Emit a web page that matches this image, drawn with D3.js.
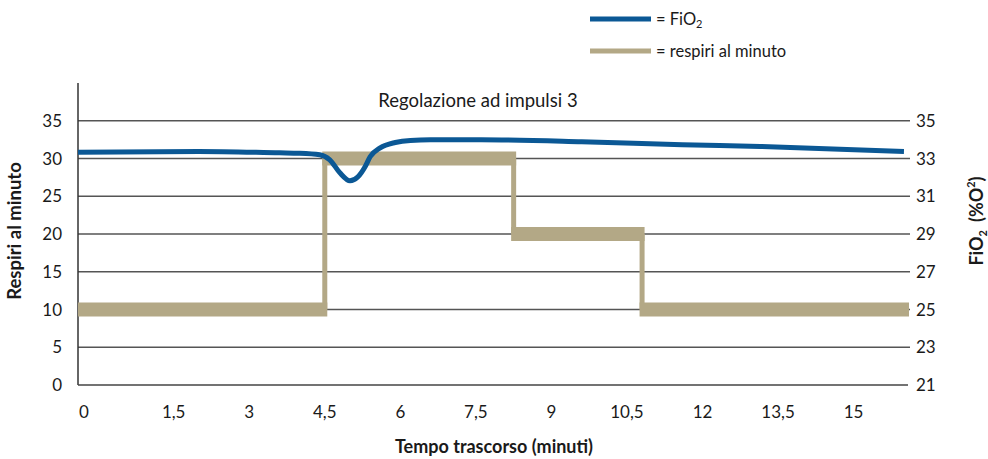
<!DOCTYPE html>
<html>
<head>
<meta charset="utf-8">
<script src="https://cdn.jsdelivr.net/npm/d3@7"></script>
<style>
  body { margin: 0; background: #fff; }
  text { font-family: Lato, "Open Sans", sans-serif; fill: #1a1a1a; }
</style>
</head>
<body>
<script>
  /* tick labels */
  var xTicks = [0, 1.5, 3, 4.5, 6, 7.5, 9, 10.5, 12, 13.5, 15];
  var leftTicks = [0, 5, 10, 15, 20, 25, 30, 35];
  var rightTicks = [21, 23, 25, 27, 29, 31, 33, 35];

  /* respiri al minuto: step segments (start, end, value) */
  var stepStart = [-0.4, 4.5, 8.25, 10.8];
  var stepEnd = [4.5, 8.25, 10.8, 16.1];
  var stepValue = [10, 30, 20, 10];

  /* FiO2 (%) */
  var fioTime = [-0.4, 2.0, 3.6, 4.0, 4.4, 4.6, 4.8, 5.0, 5.16, 5.3, 5.4, 5.6, 5.9, 6.2, 6.6, 7.6, 9.6, 11.6, 13.15, 16.0];
  var fioValue = [33.33, 33.37, 33.3, 33.28, 33.2, 32.93, 32.24, 31.82, 32.03, 32.56, 33.09, 33.56, 33.85, 33.96, 33.99, 33.99, 33.89, 33.73, 33.64, 33.37];

  var width = 988, height = 459;
  var blue = "#0b5895", tan = "#b3a886";

  var svg = d3.select("body").append("svg")
      .attr("width", width)
      .attr("height", height);

  /* scales */
  var x = d3.scaleLinear().domain([-0.4, 16.1]).range([78, 909]);
  var yL = d3.scaleLinear().domain([0, 40]).range([385, 83]);
  var yR = d3.scaleLinear().domain([21, 37]).range([385, 83]);

  /* gridlines */
  svg.append("g").selectAll("line")
    .data(leftTicks.slice(1))
    .enter().append("line")
      .attr("x1", x(-0.4)).attr("x2", 910)
      .attr("y1", function (d) { return yL(d); })
      .attr("y2", function (d) { return yL(d); })
      .attr("stroke", "#555").attr("stroke-width", 1.5);

  /* axis lines */
  svg.append("line")
    .attr("x1", x(-0.4)).attr("x2", x(-0.4))
    .attr("y1", yL(40)).attr("y2", yL(0))
    .attr("stroke", "#333").attr("stroke-width", 1.5);
  svg.append("line")
    .attr("x1", x(-0.4)).attr("x2", 908)
    .attr("y1", yL(0)).attr("y2", yL(0))
    .attr("stroke", "#444").attr("stroke-width", 1.5);

  /* tick labels */
  svg.append("g").selectAll("text")
    .data(leftTicks)
    .enter().append("text")
      .attr("x", 62)
      .attr("y", function (d) { return yL(d) + 6; })
      .attr("text-anchor", "end")
      .style("font-size", "17px")
      .text(function (d) { return d; });

  svg.append("g").selectAll("text")
    .data(rightTicks)
    .enter().append("text")
      .attr("x", 916)
      .attr("y", function (d) { return yR(d) + 6; })
      .style("font-size", "17px")
      .text(function (d) { return d; });

  svg.append("g").selectAll("text")
    .data(xTicks)
    .enter().append("text")
      .attr("x", function (d) { return d === 0 ? 79 : x(d); })
      .attr("y", 418)
      .attr("text-anchor", function (d) { return d === 0 ? "start" : "middle"; })
      .style("font-size", "17px")
      .text(function (d) { return String(d).replace(".", ","); });

  /* respiri al minuto - thick horizontal bars + thin risers */
  var steps = stepValue.map(function (v, i) {
    return { t0: stepStart[i], t1: stepEnd[i], v: v };
  });
  var gSteps = svg.append("g");
  steps.forEach(function (s, i) {
    if (i > 0) {
      var prev = steps[i - 1].v;
      gSteps.append("line")
        .attr("x1", x(s.t0)).attr("x2", x(s.t0))
        .attr("y1", yL(prev)).attr("y2", yL(s.v))
        .attr("stroke", tan).attr("stroke-width", 5);
    }
  });
  steps.forEach(function (s, i) {
    var a = i === 0 ? x(s.t0) : x(s.t0) - 2.5;
    var b = i === steps.length - 1 ? x(s.t1) : x(s.t1) + 2.5;
    gSteps.append("rect")
      .attr("x", a).attr("width", b - a)
      .attr("y", yL(s.v) - 7).attr("height", 14)
      .attr("fill", tan);
  });

  /* FiO2 curve */
  var line = d3.line()
    .x(function (d) { return x(d[0]); })
    .y(function (d) { return yR(d[1]); })
    .curve(d3.curveMonotoneX);
  svg.append("path")
    .datum(fioTime.map(function (t, i) { return [t, fioValue[i]]; }))
    .attr("d", line)
    .attr("fill", "none")
    .attr("stroke", blue)
    .attr("stroke-width", 5);

  /* title */
  svg.append("text")
    .attr("x", 478).attr("y", 107)
    .attr("text-anchor", "middle")
    .style("font-size", "18.5px")
    .text("Regolazione ad impulsi 3");

  /* axis titles */
  svg.append("text")
    .attr("transform", "translate(21,231) rotate(-90)")
    .attr("text-anchor", "middle")
    .style("font-size", "18.5px").style("font-weight", "bold")
    .text("Respiri al minuto");

  var rt = svg.append("text")
    .attr("transform", "translate(983,221) rotate(-90)")
    .attr("text-anchor", "middle")
    .style("font-size", "18px").style("font-weight", "bold");
  rt.append("tspan").text("FiO");
  rt.append("tspan").attr("dy", 4).style("font-size", "11px").text("2");
  rt.append("tspan").attr("dy", -4).attr("dx", 8).text("(%O");
  rt.append("tspan").attr("dy", -8).style("font-size", "11px").text("2");
  rt.append("tspan").attr("dy", 8).text(")");

  svg.append("text")
    .attr("x", 494).attr("y", 453)
    .attr("text-anchor", "middle")
    .style("font-size", "18px").style("font-weight", "bold")
    .text("Tempo trascorso (minuti)");

  /* legend */
  var legend = svg.append("g");
  legend.append("line")
    .attr("x1", 590).attr("x2", 651).attr("y1", 19).attr("y2", 19)
    .attr("stroke", blue).attr("stroke-width", 5);
  legend.append("line")
    .attr("x1", 590).attr("x2", 651).attr("y1", 51).attr("y2", 51)
    .attr("stroke", tan).attr("stroke-width", 5);
  var l1 = legend.append("text")
    .attr("x", 656).attr("y", 25)
    .style("font-size", "16.5px");
  l1.append("tspan").text("= FiO");
  l1.append("tspan").attr("dy", 3).style("font-size", "11px").text("2");
  legend.append("text")
    .attr("x", 656).attr("y", 57)
    .style("font-size", "16.5px")
    .text("= respiri al minuto");
</script>
</body>
</html>
